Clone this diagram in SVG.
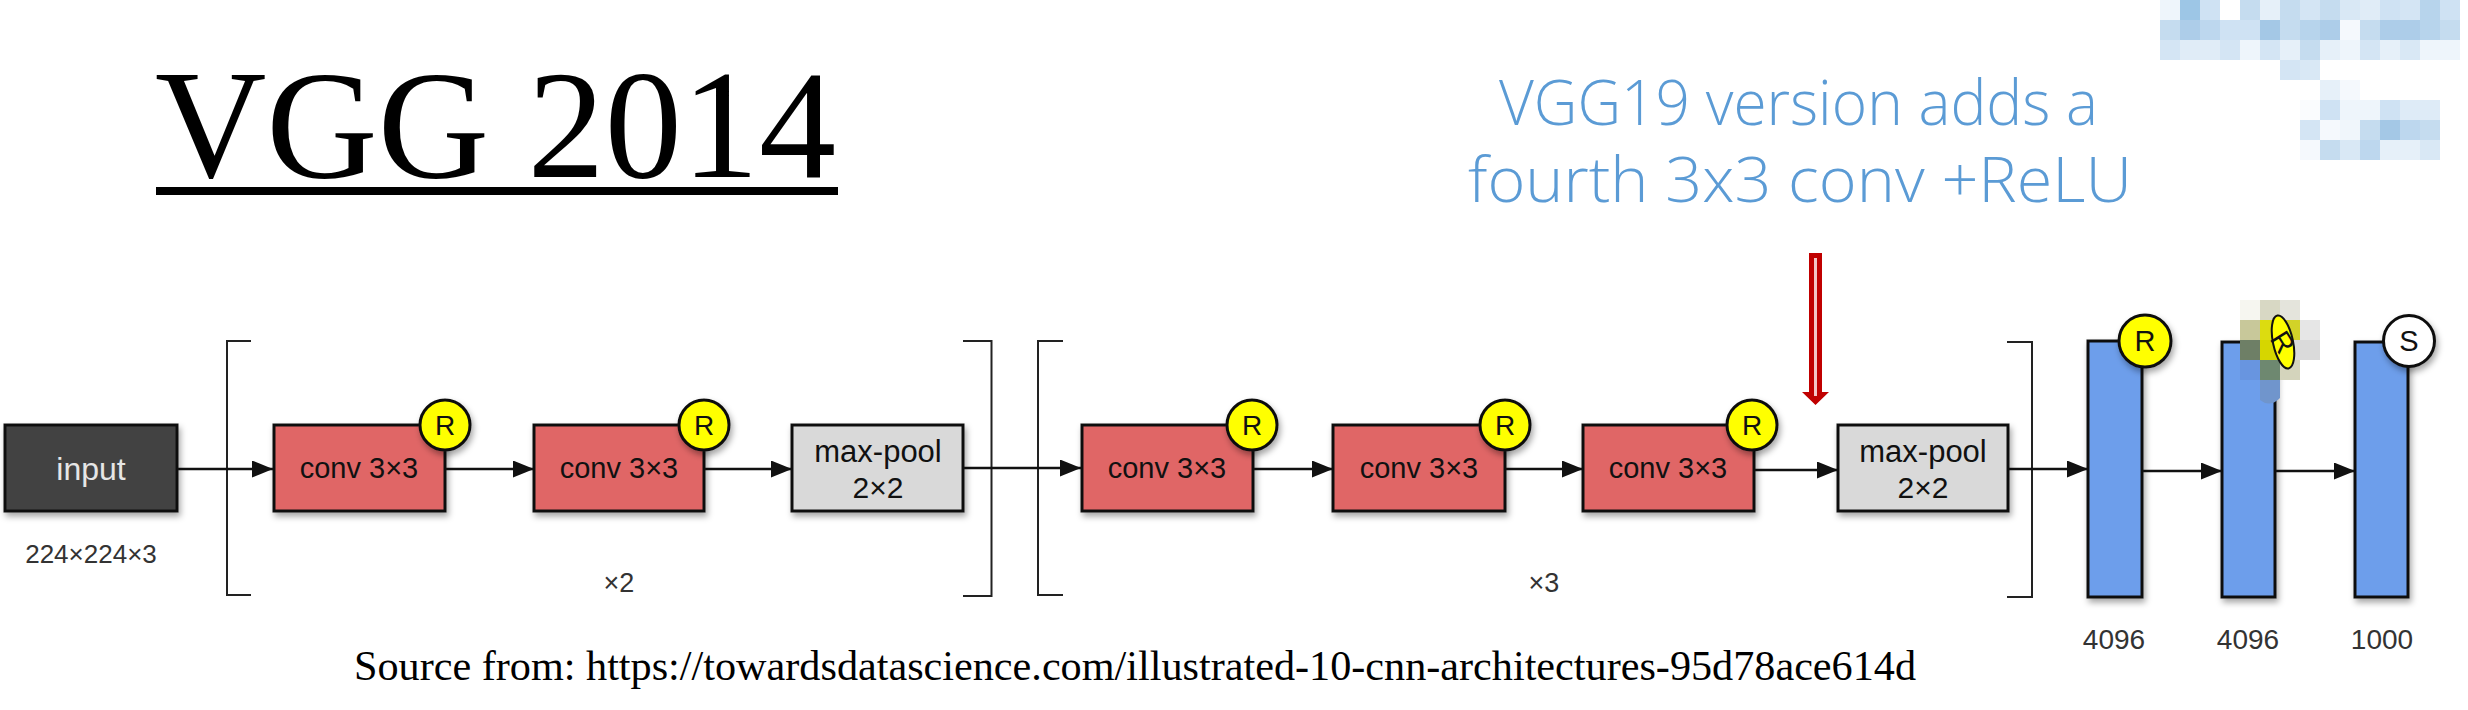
<svg xmlns="http://www.w3.org/2000/svg" width="2468" height="710" viewBox="0 0 2468 710">
<style>
.box{stroke:#111;stroke-width:3}
.conv{fill:#E06666}
.pool{fill:#D9D9D9}
.fc{fill:#6D9EEB}
.inp{fill:#434343}
.lbl{font-family:"Liberation Sans",Arial,sans-serif;fill:#111;text-anchor:middle}
.dim{font-family:"Liberation Sans",Arial,sans-serif;fill:#333;text-anchor:middle}
.r{fill:#FFFF00;stroke:#111;stroke-width:3}
.s{fill:#FFFFFF;stroke:#111;stroke-width:3}
.br{fill:none;stroke:#222;stroke-width:2}
.con{fill:none;stroke:#111;stroke-width:2.5;marker-end:url(#ah)}
.hand{font-family:"Open Sans","Liberation Sans",sans-serif;font-weight:300;fill:#5B9BD5}
</style>
<defs>
<marker id="ah" markerUnits="userSpaceOnUse" markerWidth="22" markerHeight="18" refX="21" refY="8.5" orient="auto">
<path d="M0,0 L21,8.5 L0,17 z" fill="#111"/>
</marker>
<filter id="sh" x="-20%" y="-20%" width="150%" height="150%">
<feDropShadow dx="2" dy="4" stdDeviation="3" flood-color="#000" flood-opacity="0.35"/>
</filter>
</defs>
<rect width="2468" height="710" fill="#FFFFFF"/>

<g id="title">
<text x="155" y="177" font-family="'Liberation Serif','Times New Roman',serif" font-size="155" fill="#000" textLength="681" lengthAdjust="spacingAndGlyphs">VGG 2014</text>
<rect x="156" y="187" width="682" height="8" fill="#000"/>
</g>

<g id="note">
<text class="hand" x="1499" y="125" font-size="63" textLength="599" lengthAdjust="spacingAndGlyphs">VGG19 version adds a</text>
<text class="hand" x="1468" y="202" font-size="63" textLength="664" lengthAdjust="spacingAndGlyphs">fourth 3x3 conv +ReLU</text>
</g>

<g id="red-arrow">
<path d="M1809,253 H1822 V392 H1829 L1815.5,405 L1802,392 H1809 Z" fill="#C00000"/>
<line x1="1815.5" y1="258" x2="1815.5" y2="396" stroke="#F3C4C4" stroke-width="3"/>
</g>

<g id="brackets">
<path class="br" d="M251,341 H227 V595 H251"/>
<path class="br" d="M963,341 H991.5 V596 H963"/>
<path class="br" d="M1063,341 H1038 V595 H1063"/>
<path class="br" d="M2007,342 H2032 V597 H2007"/>
</g>

<g id="connectors">
<path class="con" d="M177,469 H273"/>
<path class="con" d="M445,469 H534"/>
<path class="con" d="M704,469 H792"/>
<path class="con" d="M963,468 H1081"/>
<path class="con" d="M1253,469 H1333"/>
<path class="con" d="M1505,469 H1583"/>
<path class="con" d="M1754,470 H1838"/>
<path class="con" d="M2008,469 H2088"/>
<path class="con" d="M2142,471 H2222"/>
<path class="con" d="M2275,471 H2355"/>
</g>

<g id="input">
<rect class="box inp" x="5" y="425" width="172" height="86" filter="url(#sh)"/>
<text x="91" y="480" font-family="'Liberation Sans',Arial,sans-serif" font-size="32" fill="#E6E6E6" text-anchor="middle">input</text>
<text class="dim" x="91" y="563" font-size="26">224×224×3</text>
</g>

<g id="conv1">
<rect class="box conv" x="274" y="425" width="171" height="86" filter="url(#sh)"/>
<text class="lbl" x="359" y="478" font-size="29">conv 3×3</text>
<circle class="r" cx="445" cy="425" r="25" filter="url(#sh)"/>
<text class="lbl" x="445" y="435" font-size="28">R</text>
</g>

<g id="conv2">
<rect class="box conv" x="534" y="425" width="170" height="86" filter="url(#sh)"/>
<text class="lbl" x="619" y="478" font-size="29">conv 3×3</text>
<circle class="r" cx="704" cy="425" r="25" filter="url(#sh)"/>
<text class="lbl" x="704" y="435" font-size="28">R</text>
</g>

<g id="maxpool1">
<rect class="box pool" x="792" y="425" width="171" height="86" filter="url(#sh)"/>
<text class="lbl" x="878" y="462" font-size="31">max-pool</text>
<text class="lbl" x="878" y="498" font-size="30">2×2</text>
</g>

<text id="rep2" class="dim" x="619" y="592" font-size="27">×2</text>

<g id="conv3">
<rect class="box conv" x="1082" y="425" width="171" height="86" filter="url(#sh)"/>
<text class="lbl" x="1167" y="478" font-size="29">conv 3×3</text>
<circle class="r" cx="1252" cy="425" r="25" filter="url(#sh)"/>
<text class="lbl" x="1252" y="435" font-size="28">R</text>
</g>

<g id="conv4">
<rect class="box conv" x="1333" y="425" width="172" height="86" filter="url(#sh)"/>
<text class="lbl" x="1419" y="478" font-size="29">conv 3×3</text>
<circle class="r" cx="1505" cy="425" r="25" filter="url(#sh)"/>
<text class="lbl" x="1505" y="435" font-size="28">R</text>
</g>

<g id="conv5">
<rect class="box conv" x="1583" y="425" width="171" height="86" filter="url(#sh)"/>
<text class="lbl" x="1668" y="478" font-size="29">conv 3×3</text>
<circle class="r" cx="1752" cy="425" r="25" filter="url(#sh)"/>
<text class="lbl" x="1752" y="435" font-size="28">R</text>
</g>

<g id="maxpool2">
<rect class="box pool" x="1838" y="425" width="170" height="86" filter="url(#sh)"/>
<text class="lbl" x="1923" y="462" font-size="31">max-pool</text>
<text class="lbl" x="1923" y="498" font-size="30">2×2</text>
</g>

<text id="rep3" class="dim" x="1544" y="592" font-size="27">×3</text>

<g id="fc1">
<rect class="box fc" x="2088" y="341" width="54" height="256" filter="url(#sh)"/>
<circle class="r" cx="2145" cy="341" r="26" filter="url(#sh)"/>
<text class="lbl" x="2145" y="351" font-size="29">R</text>
<text class="dim" x="2114" y="649" font-size="28">4096</text>
</g>

<g id="fc2">
<rect class="box fc" x="2222" y="342" width="53" height="255" filter="url(#sh)"/>
<text class="dim" x="2248" y="649" font-size="28">4096</text>
</g>

<g id="fc3">
<rect class="box fc" x="2355" y="342" width="53" height="255" filter="url(#sh)"/>
<circle class="s" cx="2409" cy="341" r="25.5" filter="url(#sh)"/>
<text class="lbl" x="2409" y="351" font-size="29">S</text>
<text class="dim" x="2382" y="649" font-size="28">1000</text>
</g>

<g id="mosaic-fc2">
<rect x="2240" y="300" width="20" height="20" fill="#F6F6F0"/>
<rect x="2260" y="300" width="20" height="20" fill="#D8D8C4"/>
<rect x="2280" y="300" width="20" height="20" fill="#E4E4DC"/>
<rect x="2240" y="320" width="20" height="20" fill="#C8C89A"/>
<rect x="2260" y="320" width="20" height="20" fill="#DCDC10"/>
<rect x="2280" y="320" width="20" height="20" fill="#D2D228"/>
<rect x="2300" y="320" width="20" height="20" fill="#E6E6E6"/>
<rect x="2240" y="340" width="20" height="20" fill="#6E7F66"/>
<rect x="2260" y="340" width="20" height="20" fill="#D6D600"/>
<rect x="2280" y="340" width="20" height="20" fill="#DADADA"/>
<rect x="2300" y="340" width="20" height="20" fill="#DADADA"/>
<rect x="2240" y="360" width="20" height="20" fill="#6895E0"/>
<rect x="2260" y="360" width="20" height="20" fill="#6E8870"/>
<rect x="2280" y="360" width="20" height="20" fill="#D4D4BC"/>
<path d="M2260,380 H2280 V398 Q2270,408 2260,400 Z" fill="#7095CC"/>
<g transform="rotate(-12 2283 342)">
<ellipse cx="2283" cy="342" rx="10" ry="27" fill="#FFFF00" stroke="#111" stroke-width="2"/>
<text class="lbl" x="2283" y="352" font-size="28" transform="rotate(70 2283 342) scale(1,1)">R</text>
</g>
</g>

<g id="mosaic-top">
<rect x="2160" y="0" width="20" height="20" fill="#EEF5FB"/>
<rect x="2180" y="0" width="20" height="20" fill="#9DC6E6"/>
<rect x="2200" y="0" width="20" height="20" fill="#CFE2F3"/>
<rect x="2240" y="0" width="20" height="20" fill="#C5DCEF"/>
<rect x="2260" y="0" width="20" height="20" fill="#E6F0F9"/>
<rect x="2280" y="0" width="20" height="20" fill="#C5DCEF"/>
<rect x="2300" y="0" width="20" height="20" fill="#D4E5F4"/>
<rect x="2320" y="0" width="20" height="20" fill="#C5DCEF"/>
<rect x="2340" y="0" width="20" height="20" fill="#D9E8F5"/>
<rect x="2360" y="0" width="20" height="20" fill="#E0ECF7"/>
<rect x="2380" y="0" width="20" height="20" fill="#CFE2F3"/>
<rect x="2400" y="0" width="20" height="20" fill="#D4E5F4"/>
<rect x="2420" y="0" width="20" height="20" fill="#B7D4EC"/>
<rect x="2440" y="0" width="20" height="20" fill="#CFE2F3"/>
<rect x="2160" y="20" width="20" height="20" fill="#C5DCEF"/>
<rect x="2180" y="20" width="20" height="20" fill="#ADCDE9"/>
<rect x="2200" y="20" width="20" height="20" fill="#BDD7EE"/>
<rect x="2220" y="20" width="20" height="20" fill="#CFE2F3"/>
<rect x="2240" y="20" width="20" height="20" fill="#CFE2F3"/>
<rect x="2260" y="20" width="20" height="20" fill="#A4C8E6"/>
<rect x="2280" y="20" width="20" height="20" fill="#C5DCEF"/>
<rect x="2300" y="20" width="20" height="20" fill="#B7D4EC"/>
<rect x="2320" y="20" width="20" height="20" fill="#ADCDE9"/>
<rect x="2340" y="20" width="20" height="20" fill="#F5F9FD"/>
<rect x="2360" y="20" width="20" height="20" fill="#C5DCEF"/>
<rect x="2380" y="20" width="20" height="20" fill="#ADCDE9"/>
<rect x="2400" y="20" width="20" height="20" fill="#ADCDE9"/>
<rect x="2420" y="20" width="20" height="20" fill="#B7D4EC"/>
<rect x="2440" y="20" width="20" height="20" fill="#C5DCEF"/>
<rect x="2160" y="40" width="20" height="20" fill="#D4E5F4"/>
<rect x="2180" y="40" width="20" height="20" fill="#E0ECF7"/>
<rect x="2200" y="40" width="20" height="20" fill="#E0ECF7"/>
<rect x="2220" y="40" width="20" height="20" fill="#D4E5F4"/>
<rect x="2240" y="40" width="20" height="20" fill="#EEF5FB"/>
<rect x="2260" y="40" width="20" height="20" fill="#D4E5F4"/>
<rect x="2280" y="40" width="20" height="20" fill="#E6F0F9"/>
<rect x="2300" y="40" width="20" height="20" fill="#C5DCEF"/>
<rect x="2320" y="40" width="20" height="20" fill="#E6F0F9"/>
<rect x="2340" y="40" width="20" height="20" fill="#EEF5FB"/>
<rect x="2360" y="40" width="20" height="20" fill="#D4E5F4"/>
<rect x="2380" y="40" width="20" height="20" fill="#E6F0F9"/>
<rect x="2400" y="40" width="20" height="20" fill="#D9E8F5"/>
<rect x="2420" y="40" width="20" height="20" fill="#EEF5FB"/>
<rect x="2440" y="40" width="20" height="20" fill="#EEF5FB"/>
<rect x="2280" y="60" width="20" height="20" fill="#D4E5F4"/>
<rect x="2300" y="60" width="20" height="20" fill="#D9E8F5"/>
<rect x="2320" y="80" width="20" height="20" fill="#E6F0F9"/>
<rect x="2340" y="80" width="20" height="20" fill="#F5F9FD"/>
<rect x="2300" y="100" width="20" height="20" fill="#FAFCFE"/>
<rect x="2320" y="100" width="20" height="20" fill="#CFE2F3"/>
<rect x="2340" y="100" width="20" height="20" fill="#EEF5FB"/>
<rect x="2360" y="100" width="20" height="20" fill="#EEF5FB"/>
<rect x="2380" y="100" width="20" height="20" fill="#CFE2F3"/>
<rect x="2400" y="100" width="20" height="20" fill="#DEEBF7"/>
<rect x="2420" y="100" width="20" height="20" fill="#DEEBF7"/>
<rect x="2300" y="120" width="20" height="20" fill="#D4E5F4"/>
<rect x="2320" y="120" width="20" height="20" fill="#F5F9FD"/>
<rect x="2340" y="120" width="20" height="20" fill="#F0F6FB"/>
<rect x="2360" y="120" width="20" height="20" fill="#C5DCEF"/>
<rect x="2380" y="120" width="20" height="20" fill="#A4C8E6"/>
<rect x="2400" y="120" width="20" height="20" fill="#BDD7EE"/>
<rect x="2420" y="120" width="20" height="20" fill="#C5DCEF"/>
<rect x="2300" y="140" width="20" height="20" fill="#F5F9FD"/>
<rect x="2320" y="140" width="20" height="20" fill="#C5DCEF"/>
<rect x="2340" y="140" width="20" height="20" fill="#D9E8F5"/>
<rect x="2360" y="140" width="20" height="20" fill="#BDD7EE"/>
<rect x="2380" y="140" width="20" height="20" fill="#E6F0F9"/>
<rect x="2400" y="140" width="20" height="20" fill="#E6F0F9"/>
<rect x="2420" y="140" width="20" height="20" fill="#D9E8F5"/>
</g>

<text id="source" x="354" y="680" font-family="'Liberation Serif','Times New Roman',serif" font-size="42" fill="#000" textLength="1562" lengthAdjust="spacingAndGlyphs">Source from: https://towardsdatascience.com/illustrated-10-cnn-architectures-95d78ace614d</text>
</svg>
